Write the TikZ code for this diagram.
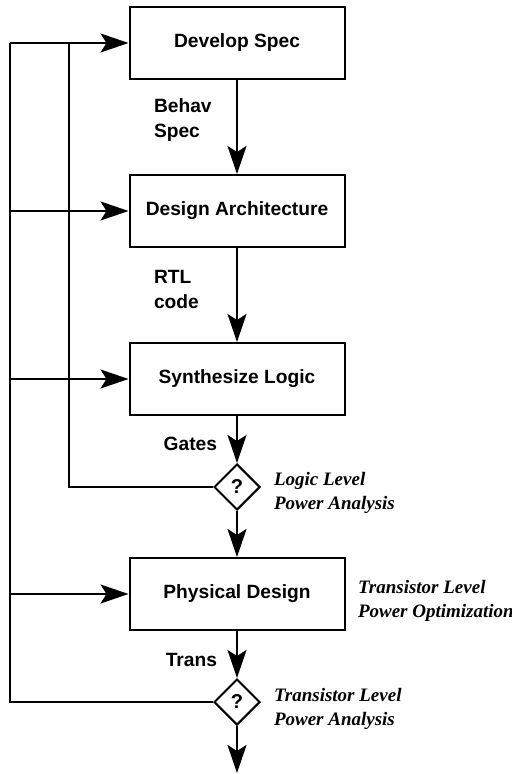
\documentclass[tikz,border=0pt]{standalone}
\usepackage{fontspec}
\setmainfont{Liberation Serif}
\setsansfont{Liberation Sans}
\usetikzlibrary{arrows.meta}
\usetikzlibrary{shapes.geometric}
\tikzset{
  stagebox/.style={draw,line width=1pt,minimum width=107.5pt,minimum height=36pt,
    font=\sffamily\bfseries\fontsize{9.6}{12}\selectfont},
  checkpt/.style={draw,diamond,line width=1pt,aspect=1,inner sep=0pt,
    minimum width=23pt,minimum height=23pt,font=\sffamily\bfseries\fontsize{10}{12}\selectfont},
  flowlbl/.style={align=left,inner sep=0pt,font=\sffamily\bfseries\fontsize{9.6}{12.5}\selectfont},
  notelbl/.style={align=left,inner sep=0pt,font=\rmfamily\bfseries\itshape\fontsize{9.5}{12}\selectfont},
}
\begin{document}
\begin{tikzpicture}[x=0.5pt,y=-0.5pt,line width=1pt,
  >={Stealth[length=14pt,width=9.5pt,inset=3pt]}]
  \useasboundingbox (0,0) rectangle (512,774);
  % stages
  \node[stagebox] (spec) at (237,43) {Develop Spec};
  \node[stagebox] (arch) at (237,211) {Design Architecture};
  \node[stagebox] (synth) at (237,379) {Synthesize Logic};
  \node[stagebox] (phys) at (237,594) {Physical Design};
  \node[checkpt] (logq) at (237,487) {?};
  \node[checkpt] (trq) at (237,702) {?};
  \coordinate (out) at (237,773);
  % feedback rails
  \coordinate (outtop) at (10,43);
  \coordinate (intop) at (69,43);
  \coordinate (o2) at (10,211);
  \coordinate (o3) at (10,379);
  \coordinate (o4) at (10,594);
  % down the flow
  \draw[->] (spec) -- (arch);
  \draw[->] (arch) -- (synth);
  \draw[->] (synth) -- (logq);
  \draw[->] (logq) -- (phys);
  \draw[->] (phys) -- (trq);
  \draw[->] (trq) -- (out);
  % back to the stages
  \draw (logq.west) -| (intop);
  \draw (trq.west) -| (outtop);
  \draw[->] (outtop) -- (spec.west);
  \draw[->] (o2) -- (arch.west);
  \draw[->] (o3) -- (synth.west);
  \draw[->] (o4) -- (phys.west);
  % labels
  \node[flowlbl,anchor=west] (behav) at (153,120) {Behav\\Spec};
  \node[flowlbl,anchor=west] (rtl) at (153,289) {RTL\\code};
  \node[flowlbl,anchor=east] (gates) at (218,444) {Gates};
  \node[flowlbl,anchor=east] (trans) at (218,660) {Trans};
  \node[notelbl,anchor=west] (lpa) at (273,493) {Logic Level\\Power Analysis};
  \node[notelbl,anchor=west] (tpo) at (357,601) {Transistor Level\\Power Optimization};
  \node[notelbl,anchor=west] (tpa) at (273,709) {Transistor Level\\Power Analysis};
\end{tikzpicture}
\end{document}
